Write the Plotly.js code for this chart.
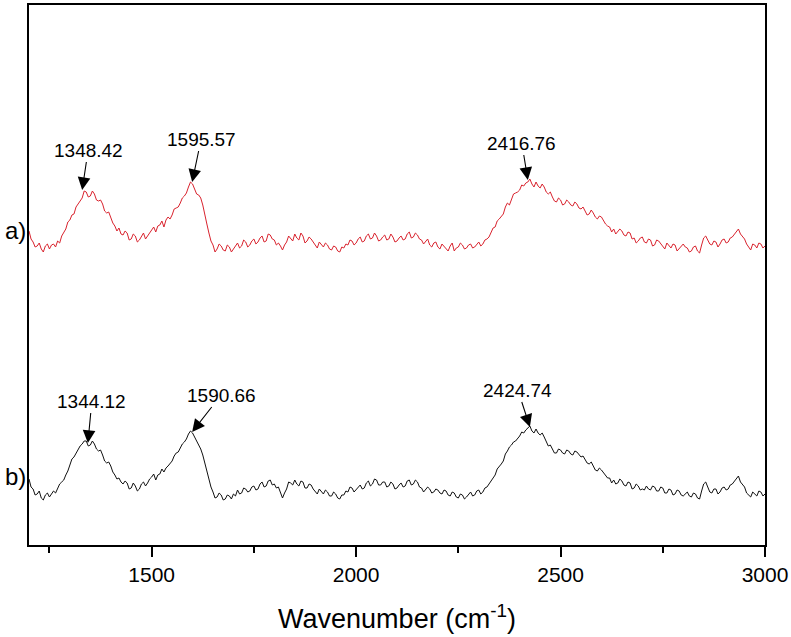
<!DOCTYPE html>
<html>
<head>
<meta charset="utf-8">
<script src="https://cdn.plot.ly/plotly-3.0.1.min.js"></script>
<style>html,body{margin:0;padding:0;background:#fff}#chart{width:791px;height:637px}</style>
</head>
<body>
<div id="chart"></div>
<script>
// Wavenumber grid (cm-1)
const wavenumber = [
1200,1205,1210,1215,1220,1225,1230,1235,1240,1245,1250,1255,1260,1265,1270,1275,1280,1285,1290,1295,
1300,1305,1310,1315,1320,1325,1330,1335,1340,1345,1350,1355,1360,1365,1370,1375,1380,1385,1390,1395,
1400,1405,1410,1415,1420,1425,1430,1435,1440,1445,1450,1455,1460,1465,1470,1475,1480,1485,1490,1495,
1500,1505,1510,1515,1520,1525,1530,1535,1540,1545,1550,1555,1560,1565,1570,1575,1580,1585,1590,1595,
1600,1605,1610,1615,1620,1625,1630,1635,1640,1645,1650,1655,1660,1665,1670,1675,1680,1685,1690,1695,
1700,1705,1710,1715,1720,1725,1730,1735,1740,1745,1750,1755,1760,1765,1770,1775,1780,1785,1790,1795,
1800,1805,1810,1815,1820,1825,1830,1835,1840,1845,1850,1855,1860,1865,1870,1875,1880,1885,1890,1895,
1900,1905,1910,1915,1920,1925,1930,1935,1940,1945,1950,1955,1960,1965,1970,1975,1980,1985,1990,1995,
2000,2005,2010,2015,2020,2025,2030,2035,2040,2045,2050,2055,2060,2065,2070,2075,2080,2085,2090,2095,
2100,2105,2110,2115,2120,2125,2130,2135,2140,2145,2150,2155,2160,2165,2170,2175,2180,2185,2190,2195,
2200,2205,2210,2215,2220,2225,2230,2235,2240,2245,2250,2255,2260,2265,2270,2275,2280,2285,2290,2295,
2300,2305,2310,2315,2320,2325,2330,2335,2340,2345,2350,2355,2360,2365,2370,2375,2380,2385,2390,2395,
2400,2405,2410,2415,2420,2425,2430,2435,2440,2445,2450,2455,2460,2465,2470,2475,2480,2485,2490,2495,
2500,2505,2510,2515,2520,2525,2530,2535,2540,2545,2550,2555,2560,2565,2570,2575,2580,2585,2590,2595,
2600,2605,2610,2615,2620,2625,2630,2635,2640,2645,2650,2655,2660,2665,2670,2675,2680,2685,2690,2695,
2700,2705,2710,2715,2720,2725,2730,2735,2740,2745,2750,2755,2760,2765,2770,2775,2780,2785,2790,2795,
2800,2805,2810,2815,2820,2825,2830,2835,2840,2845,2850,2855,2860,2865,2870,2875,2880,2885,2890,2895,
2900,2905,2910,2915,2920,2925,2930,2935,2940,2945,2950,2955,2960,2965,2970,2975,2980,2985,2990,2995,
3000];

// Spectrum a) (red), arbitrary intensity
const spectrumA = [
314,306,303,298,299,302,296,293,299,301,296,300,301,298,304,302,309,312,316,323,
325,330,331,338,341,345,347,354,353,348,349,354,351,345,344,345,341,334,332,333,
328,322,319,314,317,311,310,314,312,305,306,311,309,303,305,309,312,306,309,313,
315,318,313,319,320,324,318,325,328,326,330,336,337,338,342,347,349,352,358,363,
361,355,351,350,347,340,332,321,312,304,300,293,296,301,299,295,294,300,298,293,
296,299,302,297,299,305,303,298,300,304,306,301,303,307,309,303,304,311,310,306,
305,300,302,299,295,300,303,309,307,304,311,307,305,312,309,302,304,308,306,303,
301,297,303,301,298,302,300,296,295,299,298,294,293,298,297,301,300,305,304,300,
302,306,308,303,304,309,311,306,307,312,309,304,305,308,310,305,306,311,308,303,
304,307,309,305,306,311,313,307,308,312,310,306,305,301,303,306,300,298,302,303,
298,296,301,299,297,294,299,302,294,297,298,302,300,296,297,300,301,297,298,301,
303,299,301,305,306,308,313,317,318,324,326,329,331,338,342,340,346,351,352,353,
355,360,359,362,363,366,361,358,363,359,357,361,358,353,351,353,348,344,343,347,
345,340,341,345,343,340,339,343,341,337,336,338,334,330,331,335,332,328,326,329,
328,324,321,319,318,313,316,311,313,316,314,310,309,313,312,306,307,302,304,307,
308,303,302,306,305,299,300,305,304,301,299,296,302,300,297,301,300,294,296,299,
301,298,297,293,294,298,299,294,292,300,307,309,304,301,300,304,303,298,301,305,
306,302,303,307,308,311,314,316,311,309,306,301,298,295,301,300,297,302,301,297,
299];

// Spectrum b) (black), arbitrary intensity
const spectrumB = [
66,58,56,50,51,54,47,45,50,52,48,51,54,52,57,61,63,65,70,74,
80,86,88,92,95,99,101,104,104,99,100,104,101,96,94,95,90,84,82,83,
79,73,70,66,67,63,61,64,62,56,57,62,59,54,56,61,63,59,62,66,
68,71,65,70,71,76,73,77,79,82,84,89,92,93,97,101,103,106,111,114,
112,108,104,100,96,90,82,73,66,58,53,47,48,52,50,45,46,50,49,46,
51,49,55,51,52,57,56,53,54,58,59,55,56,61,63,58,59,64,65,60,
61,57,58,52,47,52,56,63,62,60,65,61,59,64,63,57,57,61,60,56,
54,51,56,54,51,55,53,49,49,53,51,47,46,50,50,54,53,58,57,53,
55,58,60,56,57,62,64,59,61,66,65,60,60,63,63,58,59,63,61,56,
57,60,62,58,59,64,65,60,61,65,63,58,57,53,55,58,56,52,53,56,
55,52,51,55,54,50,49,53,52,48,47,51,50,46,48,51,53,49,50,54,
55,51,53,57,58,61,64,68,70,76,78,81,84,91,94,98,100,103,104,106,
109,113,112,115,117,119,114,112,116,112,110,112,108,103,99,100,96,92,92,96,
95,92,91,95,94,91,90,94,93,90,88,89,85,82,81,83,79,75,74,77,
75,72,69,67,67,62,65,61,62,66,64,60,59,63,62,56,57,61,59,55,
56,55,59,56,55,59,58,54,54,58,57,52,52,56,55,50,51,55,54,50,
49,51,53,49,48,52,51,47,46,54,61,63,57,53,52,56,56,51,53,57,
58,55,56,60,61,64,67,69,63,60,58,52,50,48,53,51,49,54,53,49,
51];

// Peak labels
const peakLabelsA = ["1348.42", "1595.57", "2416.76"];
const peakXA = [1330, 1599, 2420];
const peakYA = [355, 363, 365];
const peakLabelsB = ["1344.12", "1590.66", "2424.74"];
const peakXB = [1344, 1599, 2425];
const peakYB = [102, 113, 118];

const seriesNames = ["a)", "b)"];
const seriesLabelY = [315, 69];

const FONT = "Arial, 'Liberation Sans', sans-serif";

const traces = [
  {x: wavenumber, y: spectrumA, type: "scatter", mode: "lines", name: seriesNames[0],
   line: {color: "#d9232e", width: 1}},
  {x: wavenumber, y: spectrumB, type: "scatter", mode: "lines", name: seriesNames[1],
   line: {color: "#111111", width: 1}}
];

const offA = [[6,-40],[9,-43],[-6,-37]];
const offB = [[4,-42],[29,-37],[-12,-37]];

const annotations = [];
peakLabelsA.forEach((t,i) => annotations.push({
  x: peakXA[i], y: peakYA[i], xref: "x", yref: "y", text: t,
  showarrow: true, arrowhead: 2, arrowsize: 2.3, arrowwidth: 1.1, arrowcolor: "#000",
  ax: offA[i][0], ay: offA[i][1], font: {family: FONT, size: 19, color: "#000"}
}));
peakLabelsB.forEach((t,i) => annotations.push({
  x: peakXB[i], y: peakYB[i], xref: "x", yref: "y", text: t,
  showarrow: true, arrowhead: 2, arrowsize: 2.3, arrowwidth: 1.1, arrowcolor: "#000",
  ax: offB[i][0], ay: offB[i][1], font: {family: FONT, size: 19, color: "#000"}
}));
seriesNames.forEach((t,i) => annotations.push({
  x: 0, y: seriesLabelY[i], xref: "paper", yref: "y", text: t,
  showarrow: false, xanchor: "right", yanchor: "middle", xshift: -1,
  font: {family: FONT, size: 24, color: "#000"}
}));

const layout = {
  width: 791, height: 637,
  margin: {l: 29, r: 26, t: 5, b: 92, pad: 0},
  paper_bgcolor: "#fff", plot_bgcolor: "#fff",
  showlegend: false,
  font: {family: FONT, color: "#000"},
  xaxis: {
    range: [1200, 3000], showgrid: false, zeroline: false,
    showline: true, linecolor: "#000", linewidth: 2, mirror: true,
    ticks: "outside", ticklen: 10, tickwidth: 2, tickcolor: "#000",
    tick0: 1000, dtick: 500,
    minor: {ticks: "outside", ticklen: 6, tickwidth: 2, tickcolor: "#000", dtick: 250, tick0: 1000, showgrid: false},
    tickfont: {family: FONT, size: 21, color: "#000"},
    title: {text: "Wavenumber (cm<sup>-1</sup>)", font: {family: FONT, size: 27, color: "#000"}, standoff: 24}
  },
  yaxis: {
    range: [0, 540], showgrid: false, zeroline: false,
    showline: true, linecolor: "#000", linewidth: 2, mirror: true,
    ticks: "", showticklabels: false
  },
  annotations: annotations
};

Plotly.newPlot("chart", traces, layout, {displayModeBar: false, staticPlot: true});
</script>
</body>
</html>
